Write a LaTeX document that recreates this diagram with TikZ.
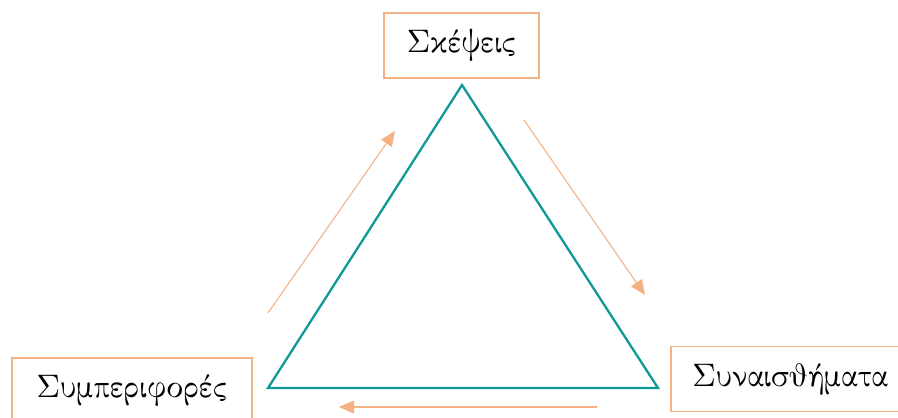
\documentclass[tikz,border=0pt]{standalone}
\usepackage[LGR,T1]{fontenc}
\usepackage{graphicx}
\usetikzlibrary{arrows.meta}
\definecolor{boxorange}{HTML}{F4B183}
\definecolor{triteal}{HTML}{0E9A94}
\newcommand{\gr}[1]{\scalebox{1.85}{\fontencoding{LGR}\fontsize{10}{12}\selectfont #1}}
\begin{document}
\begin{tikzpicture}[
  stagebox/.style={draw=boxorange, line width=1.1pt, minimum height=1.3cm, inner sep=4pt},
  cyclearrow/.style={draw=boxorange, line width=0.6pt, -{Triangle[length=0.3cm, width=0.26cm]}}
]
\useasboundingbox (0,0) rectangle (17.96,8.34);
\node[stagebox, minimum width=3.1cm] (s) at (9.23,7.43) {\gr{Sk'eyeic}};
\node[stagebox, minimum width=4.8cm] (b) at (2.64,0.53) {\gr{Sumperifor'ec}};
\node[stagebox, minimum width=4.76cm] (f) at (15.8,0.76) {\gr{Sunaisj'hmata}};
% triangle
\coordinate (ta) at (9.24,6.64);
\coordinate (tl) at (5.36,0.58);
\coordinate (tr) at (13.16,0.58);
\draw[triteal, line width=1.3pt] (ta) -- (tr) -- (tl) -- cycle;
% cycle arrows
\coordinate (a1) at (5.36,2.08);
\coordinate (a2) at (7.90,5.72);
\coordinate (a3) at (10.48,5.94);
\coordinate (a4) at (12.90,2.44);
\coordinate (a5) at (11.94,0.20);
\coordinate (a6) at (6.78,0.20);
\draw[cyclearrow] (a1) -- (a2);
\draw[cyclearrow] (a3) -- (a4);
\draw[cyclearrow] (a5) -- (a6);
\end{tikzpicture}
\end{document}
